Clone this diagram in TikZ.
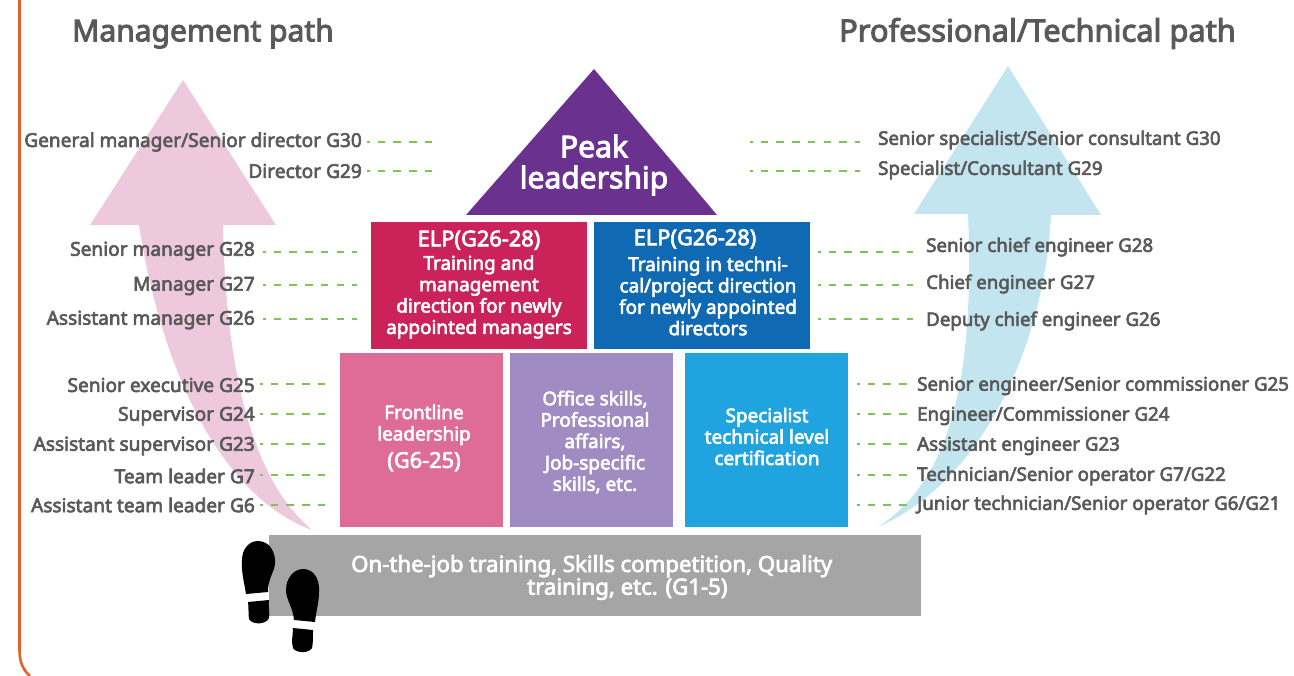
\documentclass[tikz,border=0pt]{standalone}
\usepackage{fontspec}
\setmainfont{Noto Sans}[FakeBold=3.2]
\usepackage{xcolor}
\definecolor{labelgray}{HTML}{595959}
\definecolor{dashgreen}{HTML}{7DC455}
\definecolor{pathorange}{HTML}{E2622B}
\definecolor{arrowpink}{HTML}{EEC8DD}
\definecolor{arrowblue}{HTML}{C2E5F0}
\definecolor{peakpurple}{HTML}{6A318F}
\definecolor{elpred}{HTML}{CB2259}
\definecolor{elpblue}{HTML}{0F69B3}
\definecolor{frontpink}{HTML}{DF6C95}
\definecolor{officeviolet}{HTML}{A08CC3}
\definecolor{specsky}{HTML}{20A4E0}
\definecolor{jobgray}{HTML}{A5A5A5}
\usetikzlibrary{positioning}
\newcommand{\biglabel}[1]{{\fontsize{21.8}{24}\selectfont #1}}
\tikzset{
gradetext/.style={text=labelgray,inner sep=0pt,font=\fontsize{18.7}{21}\selectfont},
mgmttext/.style={gradetext,font=\fontsize{19.1}{21}\selectfont},
gradedash/.style={dashgreen,line width=1.4pt,dash pattern=on 7.5pt off 8.2pt,dash phase=5pt},
titletext/.style={text=labelgray,inner sep=0pt,font=\fontsize{30}{34}\selectfont},
boxnode/.style={inner sep=0pt},
boxtext/.style={inner sep=0pt,align=center,text=white,font=\fontsize{18.9}{21.4}\selectfont}
}
\begin{document}
\begin{tikzpicture}[x=1pt,y=-1pt]
\useasboundingbox (0,0) rectangle (1294,676);
\draw[pathorange,line width=2.6pt] (19.5,0)--(19.5,650) .. controls (19.5,662) and (23,670) .. (30,676);
\fill[arrowpink] (183,80)--(276,225)--(223,225) .. controls (225,330) and (240,470) .. (312,530) .. controls (230,500) and (165,390) .. (139,225)--(90,225)--cycle;
\fill[arrowblue] (1008,66)--(1101,215)--(1051,215) .. controls (1045,340) and (985,480) .. (878,527) .. controls (950,480) and (975,380) .. (968,214)--(914,214)--cycle;
\node[titletext,anchor=west] (mgmttitle) at (72,33.5) {Management path};
\node[titletext,anchor=west,font=\fontsize{30.8}{34}\selectfont] (techtitle) at (839,33.5) {Professional/Technical path};
\fill[peakpurple] (594,69)--(717,215)--(466,215)--cycle;
\node[boxtext,font=\fontsize{30}{31}\selectfont] (peak) at (594,165) {Peak\\leadership};
\node[boxnode,fill=elpred,minimum width=216pt,minimum height=127pt] (elpm) at (479,285.5) {};
\node[boxnode,fill=elpblue,minimum width=216pt,minimum height=127pt] (elpt) at (702,285.5) {};
\node[boxnode,fill=frontpink,minimum width=163pt,minimum height=174pt] (front) at (421.5,440) {};
\node[boxnode,fill=officeviolet,minimum width=163pt,minimum height=174pt] (office) at (591.5,440) {};
\node[boxnode,fill=specsky,minimum width=163pt,minimum height=174pt] (spec) at (766.5,440) {};
\node[boxnode,fill=jobgray,minimum width=652pt,minimum height=81pt] (job) at (595,575.5) {};
\node[boxtext] (elpmtext) at (479,284.5) {\biglabel{ELP(G26-28)}\\[2pt]Training and\\management\\direction for newly\\appointed managers};
\node[boxtext] (elpthead) at (695,239) {\biglabel{ELP(G26-28)}};
\node[boxtext] (elpttext) at (708,296) {Training in techni-\\cal/project direction\\for newly appointed\\directors};
\node[boxtext] (fronttext) at (424,438) {Frontline\\leadership\\[6pt]\biglabel{(G6-25)}};
\node[boxtext] (officetext) at (595,442) {Office skills,\\Professional\\affairs,\\Job-specific\\skills, etc.};
\node[boxtext] (spectext) at (767,436.5) {Specialist\\technical level\\certification};
\node[boxtext,align=left,anchor=west,font=\fontsize{22.2}{21.5}\selectfont] (jobtext) at (351,577.5) {On-the-job training, Skills competition, Quality\\\hspace*{176pt}training, etc. (G1-5)};
\fill[black] (258,541) .. controls (270,541) and (276,553) .. (275,564) .. controls (274,573) and (268,578) .. (268,592) -- (246,594) .. controls (244,582) and (241,570) .. (242,560) .. controls (242,549) and (249,541) .. (258,541) -- cycle;
\fill[black] (248,602) -- (269,600) .. controls (268,606) and (270,612) .. (269,618) .. controls (266,625) and (252,625) .. (249,619) .. controls (248,613) and (249,608) .. (248,602) -- cycle;
\fill[black] (303,569) .. controls (313,569) and (320,578) .. (319,592) .. controls (319,602) and (316,612) .. (315,622) -- (294,620) .. controls (293,607) and (286,600) .. (286,590) .. controls (286,578) and (294,569) .. (303,569) -- cycle;
\fill[black] (293,628) -- (313,630) .. controls (313,638) and (313,644) .. (312,648) .. controls (308,654) and (296,653) .. (293,648) .. controls (291,642) and (293,634) .. (293,628) -- cycle;
\foreach \name/\lx/\ly/\sx/\ex/\ey/\txt in {
mg1/362/142/367/432/142/{General manager/Senior director G30},
mg2/362/171/367/432/171/{Director G29},
mg3/255/251/263/357/252/{Senior manager G28},
mg4/255/286/263/357/285/{Manager G27},
mg5/255/320/263/357/319/{Assistant manager G26},
mg6/255/385/260/328/384/{Senior executive G25},
mg7/255/416/260/328/414/{Supervisor G24},
mg8/255/446/260/328/444/{Assistant supervisor G23},
mg9/255/476/260/328/475/{Team leader G7},
mg10/255/505/260/328/505/{Assistant team leader G6}} {
\node[mgmttext,anchor=east] (\name) at (\lx,\ly) {\txt};
\coordinate (\name s) at (\sx,\ey);
\coordinate (\name e) at (\ex,\ey);
\draw[gradedash] (\name s) -- (\name e);
};
\foreach \name/\lx/\ly/\sx/\ex/\ey/\txt in {
pt1/878/140/750/860/142/{Senior specialist/Senior consultant G30},
pt2/878/170/750/860/171/{Specialist/Consultant G29},
pt3/926/247/818/913/252/{Senior chief engineer G28},
pt4/926/284/818/913/285/{Chief engineer G27},
pt5/926/321/818/913/319/{Deputy chief engineer G26},
pt6/917/386/857/907/384/{Senior engineer/Senior commissioner G25},
pt7/917/416/857/907/414/{Engineer/Commissioner G24},
pt8/917/446/857/907/444/{Assistant engineer G23},
pt9/917/476/857/907/475/{Technician/Senior operator G7/G22},
pt10/917/505/857/907/505/{Junior technician/Senior operator G6/G21}} {
\node[gradetext,anchor=west] (\name) at (\lx,\ly) {\txt};
\coordinate (\name s) at (\sx,\ey);
\coordinate (\name e) at (\ex,\ey);
\draw[gradedash] (\name s) -- (\name e);
};
\end{tikzpicture}
\end{document}
